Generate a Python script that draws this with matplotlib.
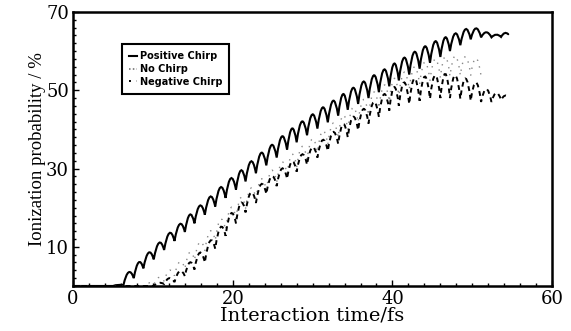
import matplotlib
matplotlib.use("Agg")
import matplotlib.pyplot as plt
from matplotlib.path import Path
from matplotlib.patches import PathPatch
from matplotlib.lines import Line2D
from matplotlib.ticker import MultipleLocator, FixedLocator

# Cusp times (fs) shared by the three curves (one per half optical cycle)
cusp_t = [5.0, 6.3, 7.6, 8.8, 10.1, 11.4, 12.7, 14.0, 15.2, 16.5,
          17.8, 19.1, 20.4, 21.6, 22.9, 24.2, 25.5, 26.8, 28.0, 29.3,
          30.6, 31.9, 33.2, 34.4, 35.7, 37.0, 38.3, 39.6, 40.8, 42.1,
          43.4, 44.7, 46.0, 47.2, 48.5, 49.8, 51.1, 52.4, 53.6, 54.5]

# Positive chirp: value at each cusp and top of each arc between cusps
pos_dip = [0, 0.2, 2.0, 4.5, 6.8, 9.2, 11.5, 13.8, 16.0, 18.2,
           20.3, 22.5, 24.6, 26.7, 28.8, 30.8, 32.8, 34.8, 36.7, 38.5,
           40.2, 41.8, 43.5, 45.0, 46.5, 48.0, 49.5, 51.0, 52.5, 54.0,
           55.5, 57.0, 58.5, 60.0, 61.5, 63.0, 63.5, 63.5, 63.6, 64.3]
pos_top = [0.3, 3.5, 6.0, 8.5, 11.0, 13.5, 15.8, 18.2, 20.5, 22.8,
           25.2, 27.5, 29.5, 31.8, 34.0, 36.0, 38.2, 40.2, 42.0, 43.8,
           45.6, 47.3, 49.0, 50.6, 52.2, 53.8, 55.3, 56.8, 58.3, 59.8,
           61.2, 62.5, 63.5, 64.5, 65.6, 65.8, 64.8, 64.2, 64.6]

# No chirp (visible up to about 51 fs)
no_dip = [0, 0, 0, 0, 0.3, 1.2, 2.6, 4.4, 6.6, 9.0,
          11.6, 14.3, 17.2, 19.8, 22.2, 24.4, 26.5, 28.5, 30.4, 32.3,
          34.2, 36.1, 38.0, 39.9, 41.8, 43.6, 45.4, 47.1, 48.7, 50.2,
          51.5, 52.5, 53.2, 53.6, 53.8, 53.8, 53.6]
no_top = [0, 0, 0, 0.8, 2.2, 4.0, 6.2, 8.6, 11.2, 14.0,
          17.0, 20.0, 22.6, 25.0, 27.3, 29.5, 31.6, 33.6, 35.6, 37.6,
          39.6, 41.6, 43.6, 45.6, 47.6, 49.5, 51.3, 53.0, 54.6, 56.0,
          57.2, 58.0, 58.6, 58.8, 58.6, 58.2]

# Negative chirp
neg_dip = [0, 0, 0, 0, 0, 0.5, 1.0, 2.5, 4.2, 6.0,
           9.5, 12.8, 16.0, 18.8, 21.2, 23.5, 25.5, 27.4, 29.2, 31.0,
           32.8, 34.5, 36.3, 38.0, 39.8, 41.5, 43.2, 44.8, 46.0, 46.5,
           47.3, 47.8, 48.0, 48.0, 47.8, 47.3, 47.0, 47.0, 47.5, 48.3]
neg_top = [0, 0, 0, 0, 0.8, 2.0, 3.8, 6.0, 8.5, 11.5,
           15.0, 18.5, 21.2, 23.8, 26.0, 28.0, 30.0, 31.8, 33.6, 35.4,
           37.3, 39.3, 41.3, 43.2, 45.2, 47.0, 49.0, 50.8, 52.0, 53.0,
           53.5, 53.8, 54.2, 53.8, 53.0, 52.0, 50.3, 49.3, 48.6]

labels = ["Positive Chirp", "No Chirp", "Negative Chirp"]


def scallop(t, dip, top):
    # arcs between cusps, rounded on top and sharp at the cusps
    verts = [(0, 0), (t[0], dip[0])]
    codes = [Path.MOVETO, Path.LINETO]
    for i in range(len(top)):
        mid = (t[i] + t[i + 1]) / 2
        ctrl = 2 * top[i] - (dip[i] + dip[i + 1]) / 2
        verts += [(mid, ctrl), (t[i + 1], dip[i + 1])]
        codes += [Path.CURVE3, Path.CURVE3]
    return Path(verts, codes)


fig = plt.figure(figsize=(5.71, 3.31), dpi=100)
ax = fig.add_axes([0.128, 0.136, 0.839, 0.828])

ax.add_patch(PathPatch(scallop(cusp_t, pos_dip, pos_top), fill=False,
                       lw=1.5, ec="black", capstyle="round"))
ax.add_patch(PathPatch(scallop(cusp_t[:len(no_dip)], no_dip, no_top), fill=False,
                       lw=1.0, ec="#888888", ls=(0, (1, 4))))
ax.add_patch(PathPatch(scallop(cusp_t, neg_dip, neg_top), fill=False,
                       lw=1.4, ec="black", ls=(0, (2.5, 2))))

ax.set_xlim(0, 60)
ax.set_ylim(0, 70)

ax.xaxis.set_major_locator(FixedLocator([0, 20, 40, 60]))
ax.xaxis.set_minor_locator(MultipleLocator(2))
ax.yaxis.set_major_locator(FixedLocator([10, 30, 50, 70]))
ax.yaxis.set_minor_locator(MultipleLocator(2))
ax.tick_params(which="both", direction="in", top=False, right=False, width=1)
ax.tick_params(which="major", length=4, pad=3)
ax.tick_params(which="minor", length=2.5)
for s in ax.spines.values():
    s.set_linewidth(1.8)

for lab in ax.get_xticklabels() + ax.get_yticklabels():
    lab.set_fontfamily("DejaVu Serif")
    lab.set_fontsize(13)

ax.set_xlabel("Interaction time/fs", family="DejaVu Serif", fontsize=14, labelpad=-1)
ax.set_ylabel("Ionization probability / %", family="Liberation Serif", fontsize=13.5, labelpad=0)

handles = [Line2D([], [], color="black", lw=1.5),
           Line2D([], [], color="#666666", lw=1.1, ls=(0, (1, 1.5))),
           Line2D([], [], color="black", lw=1.4, ls=(0, (1, 3)))]
leg = ax.legend(handles, labels, loc="upper left", bbox_to_anchor=(0.092, 0.9),
                prop={"family": "DejaVu Sans", "weight": "bold", "size": 7},
                handlelength=0.8, handletextpad=0.3, labelspacing=0.3,
                borderpad=0.7, fancybox=False, edgecolor="black", framealpha=1)
leg.get_frame().set_linewidth(1.5)

fig.savefig("out.png", dpi=100)
